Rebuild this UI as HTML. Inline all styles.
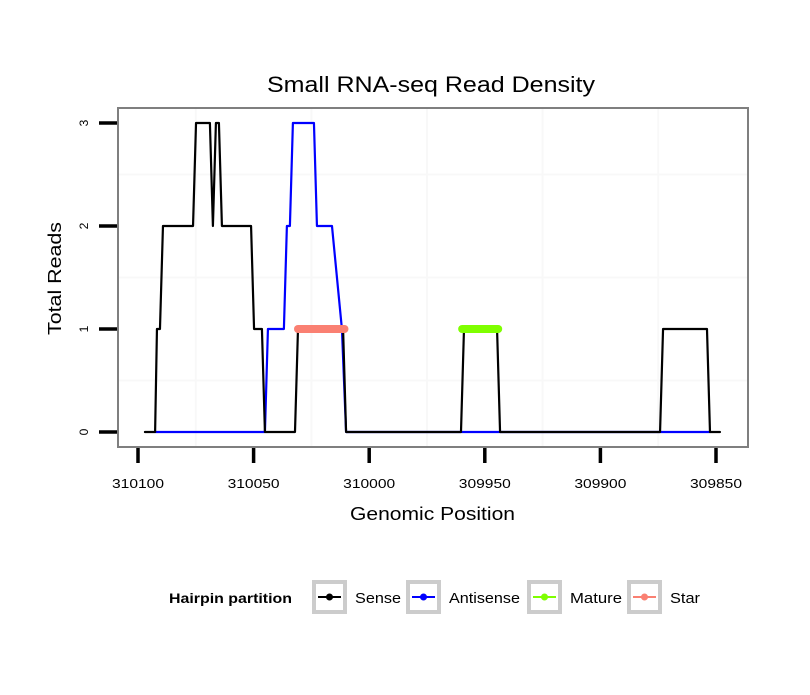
<!DOCTYPE html>
<html><head><meta charset="utf-8"><style>
body{margin:0;background:#fff;font-family:"Liberation Sans",sans-serif}
</style></head><body>
<svg id="chart" width="810" height="690" xmlns="http://www.w3.org/2000/svg" font-family="Liberation Sans, sans-serif">
<rect width="810" height="690" fill="#fff"/>
<text x="267" y="92" font-size="22" textLength="328" lengthAdjust="spacingAndGlyphs">Small RNA-seq Read Density</text>
<g id="grid"></g>
<rect x="118" y="108" width="630" height="339" fill="none" stroke="#7f7f7f" stroke-width="2"/>
<g id="marks"></g>
<g id="axes"></g>
<text x="350" y="520" font-size="18" textLength="165" lengthAdjust="spacingAndGlyphs">Genomic Position</text>
<text transform="translate(61,335) rotate(-90)" font-size="18" textLength="113" lengthAdjust="spacingAndGlyphs">Total Reads</text>
<g>
<text x="169" y="603" font-size="14" font-weight="bold" textLength="123" lengthAdjust="spacingAndGlyphs">Hairpin partition</text>
<g id="legend"></g>
</g>
</svg>
<script>
const senseX=[310097,310092.6,310091.8,310090.5,310089.2,310076.2,310074.9,310068.9,310067.6,310066.3,310065,310063.7,310051.1,310049.8,310046.4,310045.1,310032.1,310030.8,310011.3,310010,309960.3,309959,309944.7,309943.4,309874.2,309872.9,309853.9,309852.6,309848.3];
const senseY=[0,0,1,1,2,2,3,3,2,3,3,2,2,1,1,0,0,1,1,0,0,1,1,0,0,1,1,0,0];
const antiX=[310092.6,310045.1,310043.8,310036.9,310035.6,310034.3,310033,310023.9,310022.6,310016.1,310011.8,310010,309852.6];
const antiY=[0,0,1,1,2,2,3,3,2,2,1,0,0];
const matureX=[309959.8,309944.2];
const matureY=[1,1];
const starX=[310030.8,310010.7];
const starY=[1,1];
const xTicks=[310100,310050,310000,309950,309900,309850];
const yTicks=[0,1,2,3];
const legendNames=["Sense","Antisense","Mature","Star"];
const legendColors=["#000","#0000ff","#7fff00","#fa8072"];

const NS="http://www.w3.org/2000/svg";
const X=v=>138+(310100-v)/50*115.6;
const Y=v=>432-v*103;
function el(t,a,p){const e=document.createElementNS(NS,t);for(const k in a)e.setAttribute(k,a[k]);p.appendChild(e);return e;}
const grid=document.getElementById('grid'),marks=document.getElementById('marks'),axes=document.getElementById('axes'),leg=document.getElementById('legend');
for(const v of [310075,310025,309975,309925,309875]){const g=el('line',{x1:X(v),x2:X(v),y1:108,y2:447,stroke:'#f8f8f8','stroke-width':2},grid);

}
for(const v of [0.5,1.5,2.5]){const g=el('line',{x1:118,x2:748,y1:Y(v),y2:Y(v),stroke:'#f8f8f8','stroke-width':2},grid);

}
function line(xs,ys,c,w,name){const p=el('polyline',{points:xs.map((x,i)=>X(x)+','+Y(ys[i])).join(' '),fill:'none',stroke:c,'stroke-width':w,'stroke-linejoin':'round','stroke-linecap':'round'},marks);

}
line(antiX,antiY,'#0000ff',2.2,'antisense-line');
line(senseX,senseY,'#000',2.2,'sense-line');
line(matureX,matureY,'#7fff00',8,'mature-segment');
line(starX,starY,'#fa8072',8,'star-segment');
xTicks.forEach(v=>{const t=el('line',{x1:X(v),x2:X(v),y1:448,y2:463,stroke:'#000','stroke-width':3.5},axes);


const l=el('text',{x:X(v)-26,y:488,'font-size':12.5,textLength:52,lengthAdjust:'spacingAndGlyphs'},axes);l.textContent=v;

});
yTicks.forEach(v=>{const t=el('line',{x1:99,x2:117,y1:Y(v),y2:Y(v),stroke:'#000','stroke-width':3.5},axes);


const l=el('text',{transform:`translate(88,${Y(v)}) rotate(-90)`,'font-size':12,'text-anchor':'middle'},axes);l.textContent=v;

});
const lx=[314,408,529,629];
const lw=[46,71,52,30];
legendNames.forEach((n,i)=>{const g=el('g',{},leg);


el('rect',{x:lx[i],y:582,width:31,height:30,fill:'#fff',stroke:'#ccc','stroke-width':4},g);
el('line',{x1:lx[i]+4,x2:lx[i]+27,y1:597,y2:597,stroke:legendColors[i],'stroke-width':2},g);
el('circle',{cx:lx[i]+15.5,cy:597,r:3.5,fill:legendColors[i]},g);
const t=el('text',{x:lx[i]+41,y:603,'font-size':14.5,textLength:lw[i],lengthAdjust:'spacingAndGlyphs'},g);t.textContent=n;});
</script>
</body></html>
